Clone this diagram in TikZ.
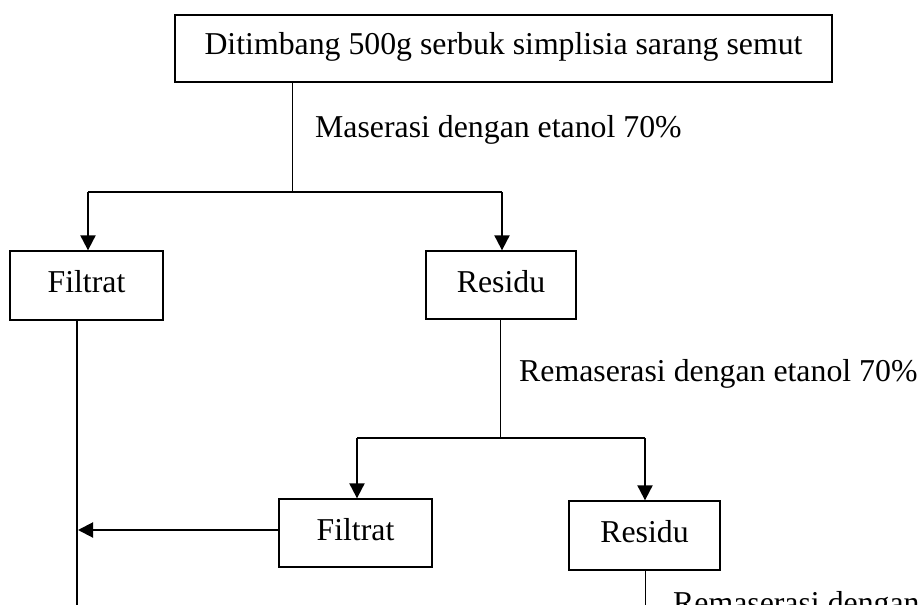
\documentclass[tikz,border=0pt]{standalone}
\usepackage{fontspec}
\setmainfont{Liberation Serif}
\usetikzlibrary{arrows.meta,calc}
\begin{document}
\begin{tikzpicture}[x=1pt,y=-1pt,
  every node/.style={font=\fontsize{31.8}{38}\selectfont},
  boxnode/.style={draw,line width=1.3pt,inner sep=0pt,text height=22pt,text depth=8pt},
  thinline/.style={line width=1pt},
  hline/.style={line width=1.4pt},
  arrline/.style={line width=2pt,-{Triangle[length=15pt,width=15pt]}},
  thickline/.style={line width=2pt},
  lbl/.style={anchor=base west,inner sep=0pt}]
\useasboundingbox (0,0) rectangle (922,605);
\clip (0,0) rectangle (922,605);
% boxes
\node[boxnode,minimum width=657pt,minimum height=67pt,text depth=11pt] (top) at (503.5,48.5) {Ditimbang 500g serbuk simplisia sarang semut};
\node[boxnode,minimum width=153pt,minimum height=69pt] (f1) at (86.5,285.5) {Filtrat};
\node[boxnode,minimum width=150pt,minimum height=68pt] (r1) at (501,285) {Residu};
\node[boxnode,minimum width=153pt,minimum height=68pt] (f2) at (355.5,533) {Filtrat};
\node[boxnode,minimum width=151pt,minimum height=69pt] (r2) at (644.5,535.5) {Residu};
% labels
\node[lbl] (l1) at (315,137) {Maserasi dengan etanol 70\%};
\node[lbl] (l2) at (519,381) {Remaserasi dengan etanol 70\%};
\node[lbl] (l3) at (673,613) {Remaserasi dengan etanol 70\%};
% coordinates
\coordinate (j1) at (292,192);
\coordinate (a1) at (88,192);
\coordinate (a2) at (502,192);
\coordinate (j2) at (500,438);
\coordinate (b1) at (357,438);
\coordinate (b2) at (645,438);
\coordinate (v1) at (77,625);
\coordinate (m) at (78,530);
\coordinate (v2) at (645,625);
% connectors
\draw[thinline] (top.south -| j1) -- (j1);
\draw[hline] (a1) -- (a2);
\draw[arrline] (a1) -- (a1 |- f1.north);
\draw[arrline] (a2) -- (a2 |- r1.north);
\draw[thinline] (r1.south -| j2) -- (j2);
\draw[hline] (b1) -- (b2);
\draw[arrline] (b1) -- (b1 |- f2.north);
\draw[arrline] (b2) -- (b2 |- r2.north);
\draw[thickline] (f1.south -| v1) -- (v1);
\draw[arrline] (f2.west |- m) -- (m);
\draw[thinline] (r2.south -| v2) -- (v2);
\end{tikzpicture}
\end{document}
